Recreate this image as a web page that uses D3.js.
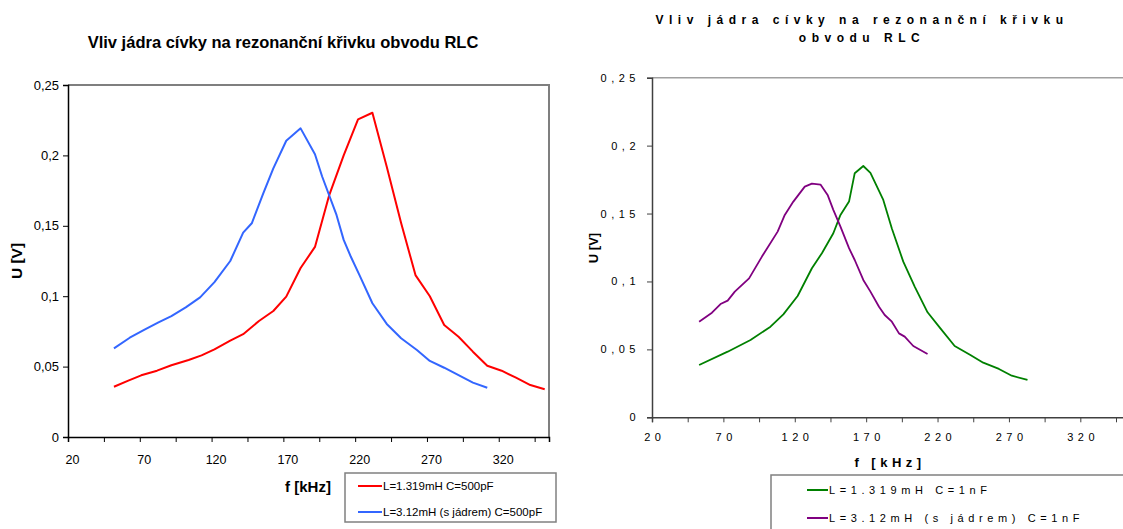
<!DOCTYPE html>
<html>
<head>
<meta charset="utf-8">
<script src="https://cdn.jsdelivr.net/npm/d3@7"></script>
<style>
  body { margin: 0; background: #fff; }
  svg { display: block; font-family: "Liberation Sans", Arial, sans-serif; }
</style>
</head>
<body>
<svg id="chart" width="1123" height="529"></svg>
<script>
// left chart: C = 500 pF
const redF = [52, 62, 71, 82, 92, 104, 113, 122, 133, 142, 153, 163, 172, 182, 192, 202, 212, 222, 232, 242, 252, 262, 272, 282, 292, 302, 312, 322, 332, 342, 352];
const redU = [0.0357, 0.040, 0.0438, 0.0471, 0.051, 0.0547, 0.058, 0.0623, 0.0684, 0.073, 0.0824, 0.0895, 0.0997, 0.12, 0.135, 0.172, 0.2, 0.2256, 0.2303, 0.192, 0.152, 0.115, 0.1, 0.0795, 0.0712, 0.0606, 0.0506, 0.0471, 0.0421, 0.0369, 0.0339];
const blueF = [52, 63, 73, 83, 92, 102, 112, 122, 133, 142, 148, 156, 163, 172, 182, 192, 197, 207, 212, 217, 223, 232, 242, 252, 263, 272, 282, 292, 302, 312];
const blueU = [0.063, 0.0705, 0.076, 0.0814, 0.0859, 0.0921, 0.0992, 0.11, 0.125, 0.1451, 0.1518, 0.173, 0.1908, 0.2104, 0.2192, 0.2008, 0.185, 0.1577, 0.14, 0.128, 0.115, 0.095, 0.0803, 0.0701, 0.0618, 0.054, 0.0492, 0.044, 0.0386, 0.035];

// right chart: C = 1 nF
const greenF = [53, 73, 89, 103, 112, 122, 132, 139, 147, 152, 158, 162, 168, 173, 182, 188, 196, 204, 213, 222, 232, 243, 252, 263, 272, 283];
const greenU = [0.0385, 0.0483, 0.0569, 0.0667, 0.0758, 0.0893, 0.1097, 0.1208, 0.1355, 0.149, 0.1588, 0.1797, 0.185, 0.18, 0.16, 0.139, 0.1146, 0.0962, 0.0773, 0.0655, 0.0525, 0.0459, 0.0402, 0.0356, 0.0306, 0.0275];
const purpleF = [53, 62, 68, 73, 78, 88, 97, 108, 113, 119, 127, 132, 138, 143, 147, 152, 158, 162, 168, 173, 179, 183, 188, 193, 197, 203, 213];
const purpleU = [0.0704, 0.077, 0.0834, 0.0859, 0.0925, 0.1023, 0.1183, 0.1367, 0.149, 0.1588, 0.1698, 0.172, 0.1713, 0.1637, 0.1527, 0.1404, 0.1245, 0.1158, 0.1011, 0.0925, 0.0814, 0.0753, 0.0704, 0.0618, 0.0594, 0.0525, 0.0466];

const xTicks = d3.range(20, 350, 25);
const xLabels = [20, 70, 120, 170, 220, 270, 320];
const yTicks = [0, 0.05, 0.1, 0.15, 0.2, 0.25];
const yLabels = ["0", "0,05", "0,1", "0,15", "0,2", "0,25"];

const leftNames = ["L=1.319mH C=500pF", "L=3.12mH (s jádrem) C=500pF"];
const rightNames = ["L=1.319mH  C=1nF", "L=3.12mH  (s jádrem) C=1nF"];

const svg = d3.select("#chart");

function drawChart(cfg) {
  const g = svg.append("g");
  const x = d3.scaleLinear().domain([20, cfg.xMax]).range([cfg.left, cfg.right]);
  const y = d3.scaleLinear().domain([0, 0.25]).range([cfg.bottom, cfg.top]);
  const ls = cfg.spacing;

  // plot frame (top + right)
  g.append("path")
    .attr("d", `M${cfg.left},${cfg.top}H${cfg.right}V${cfg.bottom}`)
    .attr("fill", "none")
    .attr("stroke", cfg.frame)
    .attr("stroke-width", cfg.frameW);

  // axes
  const xAxis = d3.axisBottom(x).tickValues(xTicks).tickSize(5)
    .tickFormat(d => xLabels.includes(d) ? String(d) : "");
  const gx = g.append("g")
    .attr("transform", `translate(0,${cfg.bottom})`)
    .call(xAxis);
  gx.selectAll("text").attr("dy", cfg.xLabelDy).attr("dx", cfg.xLabelDx + ls / 2);

  const yAxis = d3.axisLeft(y).tickValues(yTicks).tickSize(5)
    .tickFormat((d, i) => yLabels[i]);
  const gy = g.append("g")
    .attr("transform", `translate(${cfg.left},0)`)
    .call(yAxis);

  [gx, gy].forEach(a => {
    a.select(".domain").attr("stroke", cfg.axisColor).attr("stroke-width", 1.5);
    a.selectAll(".tick line").attr("stroke", cfg.axisColor);
    a.selectAll("text")
      .attr("font-family", '"Liberation Sans", Arial, sans-serif')
      .attr("letter-spacing", ls)
      .attr("fill", "#000");
  });
  gx.selectAll("text").attr("font-size", cfg.xTickSize);
  gy.selectAll("text").attr("font-size", cfg.yTickSize).attr("dx", cfg.yLabelDx);

  // lines
  const line = d3.line().x(d => x(d[0])).y(d => y(d[1]));
  cfg.series.forEach(s => {
    g.append("path")
      .datum(s.f.map((f, i) => [f, s.u[i]]))
      .attr("fill", "none")
      .attr("stroke", s.color)
      .attr("stroke-width", cfg.lineW)
      .attr("stroke-linejoin", "round")
      .attr("d", line);
  });

  // title
  const t = g.append("text")
    .attr("text-anchor", "middle")
    .attr("font-weight", "bold")
    .attr("font-size", cfg.titleSize)
    .attr("letter-spacing", cfg.titleSpacing);
  cfg.title.forEach((ln, i) => {
    t.append("tspan").attr("x", cfg.titleX).attr("y", cfg.titleY + i * cfg.titleLine).text(ln);
  });

  // axis titles
  g.append("text")
    .attr("x", cfg.xTitleX).attr("y", cfg.xTitleY)
    .attr("text-anchor", "middle")
    .attr("font-weight", "bold")
    .attr("font-size", cfg.xTitleSize)
    .attr("letter-spacing", cfg.xTitleSpacing)
    .text(cfg.xTitle);

  g.append("text")
    .attr("transform", `translate(${cfg.yTitleX},${cfg.yTitleY}) rotate(-90)`)
    .attr("text-anchor", "middle")
    .attr("font-weight", "bold")
    .attr("font-size", cfg.yTitleSize)
    .text("U [V]");

  // legend
  const lg = g.append("g");
  lg.append("rect")
    .attr("x", cfg.legend.x).attr("y", cfg.legend.y)
    .attr("width", cfg.legend.w).attr("height", cfg.legend.h)
    .attr("fill", "#fff")
    .attr("stroke", "#808080")
    .attr("stroke-width", 1.5);
  cfg.series.forEach((s, i) => {
    const ly = cfg.legend.y + cfg.legend.first + i * cfg.legend.step;
    lg.append("line")
      .attr("x1", cfg.legend.x + cfg.legend.lx).attr("x2", cfg.legend.x + cfg.legend.lx + cfg.legend.lw)
      .attr("y1", ly).attr("y2", ly)
      .attr("stroke", s.color).attr("stroke-width", 2);
    lg.append("text")
      .attr("x", cfg.legend.x + cfg.legend.lx + cfg.legend.lw + 1)
      .attr("y", ly + 4)
      .attr("font-size", cfg.legend.size)
      .attr("letter-spacing", cfg.legend.spacing)
      .text(s.name);
  });
}

drawChart({
  left: 68, right: 549, top: 85, bottom: 437, xMax: 355,
  frame: "#7f7f7f", frameW: 2, axisColor: "#000",
  xTickSize: 12.5, yTickSize: 13, spacing: 0, xLabelDy: "1.5em", xLabelDx: 4, yLabelDx: -1,
  lineW: 2,
  title: ["Vliv jádra cívky na rezonanční křivku obvodu RLC"],
  titleX: 283, titleY: 48, titleLine: 0, titleSize: 16.5, titleSpacing: 0,
  xTitle: "f [kHz]", xTitleX: 308, xTitleY: 492, xTitleSize: 15, xTitleSpacing: 0,
  yTitleX: 22, yTitleY: 261, yTitleSize: 15.5,
  legend: { x: 345, y: 473, w: 211, h: 49, lx: 13, lw: 24, first: 13, step: 26, spacing: 0, size: 11.5 },
  series: [
    { name: leftNames[0], f: redF, u: redU, color: "#ff0000" },
    { name: leftNames[1], f: blueF, u: blueU, color: "#3366ff" }
  ]
});

drawChart({
  left: 652, right: 1126, top: 77.7, bottom: 417.3, xMax: 352,
  frame: "#a0a0a0", frameW: 1.5, axisColor: "#404040",
  xTickSize: 11, yTickSize: 11, spacing: 4.5, xLabelDy: "1.4em", xLabelDx: 0, yLabelDx: -4,
  lineW: 1.8,
  title: ["Vliv jádra cívky na rezonanční křivku", "obvodu RLC"],
  titleX: 862, titleY: 24, titleLine: 18, titleSize: 12, titleSpacing: 5.5,
  xTitle: "f [kHz]", xTitleX: 890, xTitleY: 467, xTitleSize: 13, xTitleSpacing: 4.5,
  yTitleX: 598, yTitleY: 248, yTitleSize: 13,
  legend: { x: 771, y: 475, w: 360, h: 60, lx: 36, lw: 21, first: 15, step: 28, spacing: 4.6, size: 11 },
  series: [
    { name: rightNames[0], f: greenF, u: greenU, color: "#008000" },
    { name: rightNames[1], f: purpleF, u: purpleU, color: "#800080" }
  ]
});
</script>
</body>
</html>
